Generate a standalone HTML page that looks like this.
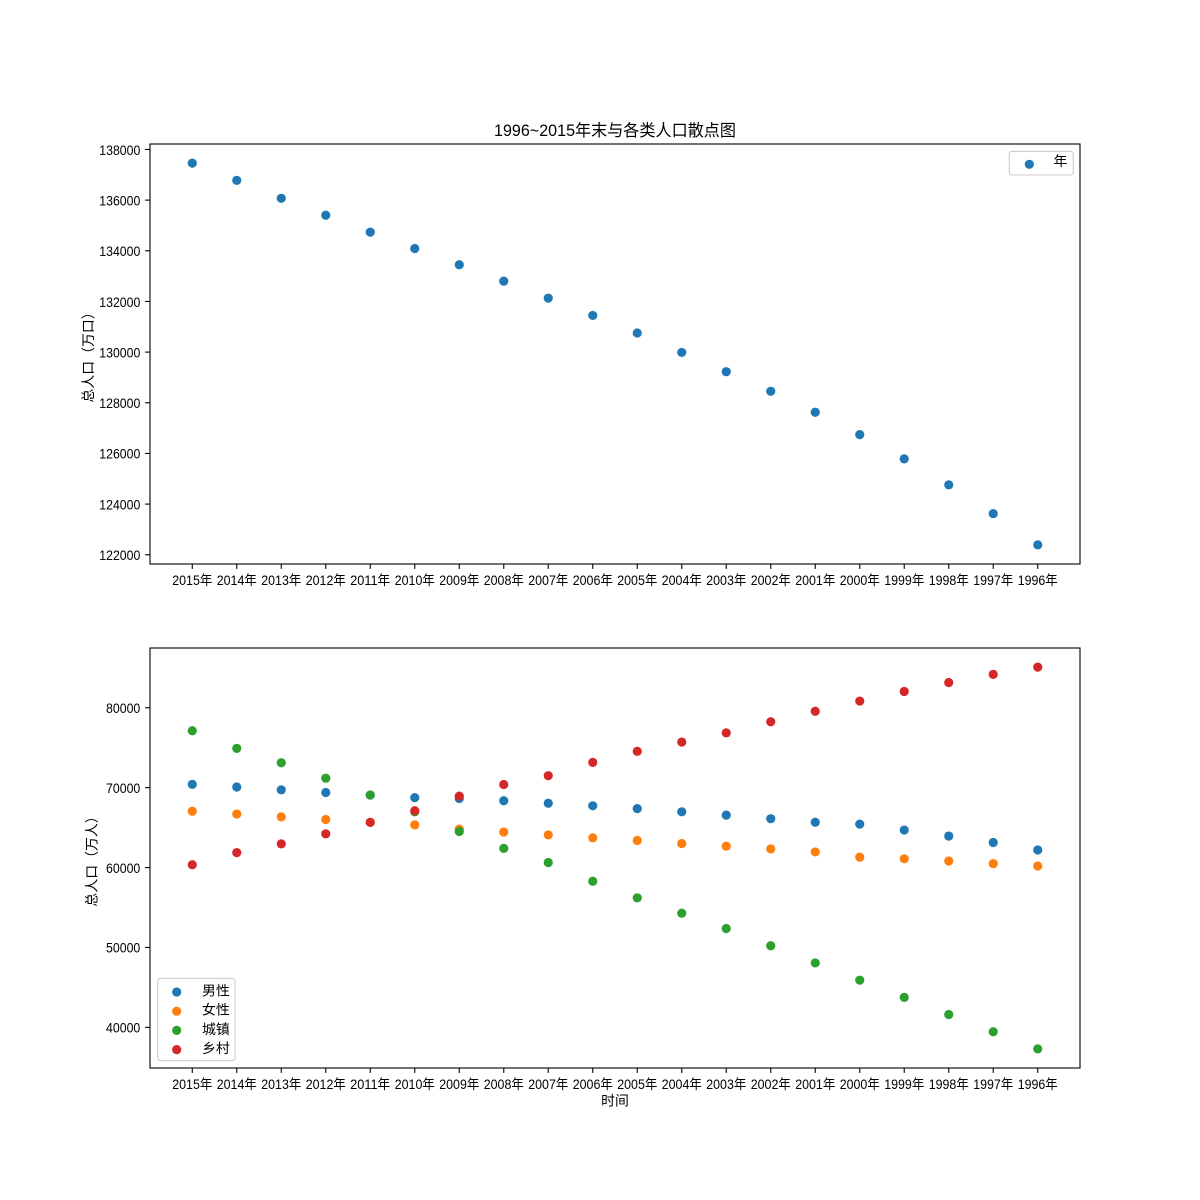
<!DOCTYPE html>
<html><head><meta charset="utf-8"><style>
html,body{margin:0;padding:0;background:#fff;}
svg{display:block;}
text{font-family:"Liberation Sans","WenQuanYi Zen Hei","Noto Sans CJK SC",sans-serif;fill:#000;}
</style></head><body>
<svg width="1200" height="1200" viewBox="0 0 1200 1200" xmlns="http://www.w3.org/2000/svg">
<rect width="1200" height="1200" fill="#fff"/>
<!-- Title -->
<text x="615" y="136" font-size="16.67" text-anchor="middle" textLength="242" lengthAdjust="spacingAndGlyphs">1996~2015年末与各类人口散点图</text>

<!-- ===== TOP AXES ===== -->
<g fill="#1f77b4">
<circle cx="192.27" cy="163.09" r="4.6"/>
<circle cx="236.77" cy="180.32" r="4.6"/>
<circle cx="281.27" cy="198.30" r="4.6"/>
<circle cx="325.77" cy="215.22" r="4.6"/>
<circle cx="370.26" cy="232.17" r="4.6"/>
<circle cx="414.76" cy="248.48" r="4.6"/>
<circle cx="459.26" cy="264.72" r="4.6"/>
<circle cx="503.76" cy="281.13" r="4.6"/>
<circle cx="548.26" cy="298.18" r="4.6"/>
<circle cx="592.75" cy="315.43" r="4.6"/>
<circle cx="637.25" cy="332.96" r="4.6"/>
<circle cx="681.75" cy="352.42" r="4.6"/>
<circle cx="726.25" cy="371.69" r="4.6"/>
<circle cx="770.75" cy="391.30" r="4.6"/>
<circle cx="815.24" cy="412.23" r="4.6"/>
<circle cx="859.74" cy="434.62" r="4.6"/>
<circle cx="904.24" cy="458.86" r="4.6"/>
<circle cx="948.74" cy="484.83" r="4.6"/>
<circle cx="993.24" cy="513.57" r="4.6"/>
<circle cx="1037.73" cy="544.91" r="4.6"/>
</g>
<rect x="150" y="144" width="930" height="420" fill="none" stroke="#000" stroke-width="1.1"/>
<!-- top y ticks -->
<g stroke="#000" stroke-width="1.1">
<line x1="145.1" x2="150" y1="149.46" y2="149.46"/>
<line x1="145.1" x2="150" y1="200.12" y2="200.12"/>
<line x1="145.1" x2="150" y1="250.79" y2="250.79"/>
<line x1="145.1" x2="150" y1="301.45" y2="301.45"/>
<line x1="145.1" x2="150" y1="352.11" y2="352.11"/>
<line x1="145.1" x2="150" y1="402.78" y2="402.78"/>
<line x1="145.1" x2="150" y1="453.44" y2="453.44"/>
<line x1="145.1" x2="150" y1="504.10" y2="504.10"/>
<line x1="145.1" x2="150" y1="554.76" y2="554.76"/>
</g>
<g font-size="13.89" text-anchor="end">
<text x="140.3" y="154.8" textLength="41" lengthAdjust="spacingAndGlyphs">138000</text>
<text x="140.3" y="205.4" textLength="41" lengthAdjust="spacingAndGlyphs">136000</text>
<text x="140.3" y="256.1" textLength="41" lengthAdjust="spacingAndGlyphs">134000</text>
<text x="140.3" y="306.8" textLength="41" lengthAdjust="spacingAndGlyphs">132000</text>
<text x="140.3" y="357.4" textLength="41" lengthAdjust="spacingAndGlyphs">130000</text>
<text x="140.3" y="408.1" textLength="41" lengthAdjust="spacingAndGlyphs">128000</text>
<text x="140.3" y="458.7" textLength="41" lengthAdjust="spacingAndGlyphs">126000</text>
<text x="140.3" y="509.4" textLength="41" lengthAdjust="spacingAndGlyphs">124000</text>
<text x="140.3" y="560.1" textLength="41" lengthAdjust="spacingAndGlyphs">122000</text>
</g>
<text transform="translate(93,354) rotate(-90)" font-size="13.89" text-anchor="middle">总人口（万口）</text>
<!-- top x ticks -->
<g stroke="#000" stroke-width="1.1">
<line x1="192.27" x2="192.27" y1="564" y2="568.9"/>
<line x1="236.77" x2="236.77" y1="564" y2="568.9"/>
<line x1="281.27" x2="281.27" y1="564" y2="568.9"/>
<line x1="325.77" x2="325.77" y1="564" y2="568.9"/>
<line x1="370.26" x2="370.26" y1="564" y2="568.9"/>
<line x1="414.76" x2="414.76" y1="564" y2="568.9"/>
<line x1="459.26" x2="459.26" y1="564" y2="568.9"/>
<line x1="503.76" x2="503.76" y1="564" y2="568.9"/>
<line x1="548.26" x2="548.26" y1="564" y2="568.9"/>
<line x1="592.75" x2="592.75" y1="564" y2="568.9"/>
<line x1="637.25" x2="637.25" y1="564" y2="568.9"/>
<line x1="681.75" x2="681.75" y1="564" y2="568.9"/>
<line x1="726.25" x2="726.25" y1="564" y2="568.9"/>
<line x1="770.75" x2="770.75" y1="564" y2="568.9"/>
<line x1="815.24" x2="815.24" y1="564" y2="568.9"/>
<line x1="859.74" x2="859.74" y1="564" y2="568.9"/>
<line x1="904.24" x2="904.24" y1="564" y2="568.9"/>
<line x1="948.74" x2="948.74" y1="564" y2="568.9"/>
<line x1="993.24" x2="993.24" y1="564" y2="568.9"/>
<line x1="1037.73" x2="1037.73" y1="564" y2="568.9"/>
</g>
<g font-size="13.89" text-anchor="middle">
<text x="192.27" y="584.8" textLength="40" lengthAdjust="spacingAndGlyphs">2015年</text>
<text x="236.77" y="584.8" textLength="40" lengthAdjust="spacingAndGlyphs">2014年</text>
<text x="281.27" y="584.8" textLength="40" lengthAdjust="spacingAndGlyphs">2013年</text>
<text x="325.77" y="584.8" textLength="40" lengthAdjust="spacingAndGlyphs">2012年</text>
<text x="370.26" y="584.8" textLength="40" lengthAdjust="spacingAndGlyphs">2011年</text>
<text x="414.76" y="584.8" textLength="40" lengthAdjust="spacingAndGlyphs">2010年</text>
<text x="459.26" y="584.8" textLength="40" lengthAdjust="spacingAndGlyphs">2009年</text>
<text x="503.76" y="584.8" textLength="40" lengthAdjust="spacingAndGlyphs">2008年</text>
<text x="548.26" y="584.8" textLength="40" lengthAdjust="spacingAndGlyphs">2007年</text>
<text x="592.75" y="584.8" textLength="40" lengthAdjust="spacingAndGlyphs">2006年</text>
<text x="637.25" y="584.8" textLength="40" lengthAdjust="spacingAndGlyphs">2005年</text>
<text x="681.75" y="584.8" textLength="40" lengthAdjust="spacingAndGlyphs">2004年</text>
<text x="726.25" y="584.8" textLength="40" lengthAdjust="spacingAndGlyphs">2003年</text>
<text x="770.75" y="584.8" textLength="40" lengthAdjust="spacingAndGlyphs">2002年</text>
<text x="815.24" y="584.8" textLength="40" lengthAdjust="spacingAndGlyphs">2001年</text>
<text x="859.74" y="584.8" textLength="40" lengthAdjust="spacingAndGlyphs">2000年</text>
<text x="904.24" y="584.8" textLength="40" lengthAdjust="spacingAndGlyphs">1999年</text>
<text x="948.74" y="584.8" textLength="40" lengthAdjust="spacingAndGlyphs">1998年</text>
<text x="993.24" y="584.8" textLength="40" lengthAdjust="spacingAndGlyphs">1997年</text>
<text x="1037.73" y="584.8" textLength="40" lengthAdjust="spacingAndGlyphs">1996年</text>
</g>
<!-- top legend -->
<rect x="1009.3" y="151.3" width="64" height="23.7" rx="3" fill="#fff" fill-opacity="0.8" stroke="#cccccc" stroke-width="1.1"/>
<circle cx="1029.3" cy="164.3" r="4.6" fill="#1f77b4"/>
<text x="1053.5" y="166" font-size="13.89">年</text>

<!-- ===== BOTTOM AXES ===== -->
<g fill="#1f77b4">
<circle cx="192.27" cy="784.33" r="4.6"/>
<circle cx="236.77" cy="787.00" r="4.6"/>
<circle cx="281.27" cy="789.81" r="4.6"/>
<circle cx="325.77" cy="792.47" r="4.6"/>
<circle cx="370.26" cy="795.08" r="4.6"/>
<circle cx="414.76" cy="797.64" r="4.6"/>
<circle cx="459.26" cy="798.45" r="4.6"/>
<circle cx="503.76" cy="800.77" r="4.6"/>
<circle cx="548.26" cy="803.23" r="4.6"/>
<circle cx="592.75" cy="805.79" r="4.6"/>
<circle cx="637.25" cy="808.61" r="4.6"/>
<circle cx="681.75" cy="811.80" r="4.6"/>
<circle cx="726.25" cy="815.16" r="4.6"/>
<circle cx="770.75" cy="818.68" r="4.6"/>
<circle cx="815.24" cy="822.22" r="4.6"/>
<circle cx="859.74" cy="824.10" r="4.6"/>
<circle cx="904.24" cy="830.05" r="4.6"/>
<circle cx="948.74" cy="836.06" r="4.6"/>
<circle cx="993.24" cy="842.53" r="4.6"/>
<circle cx="1037.73" cy="849.97" r="4.6"/>
</g>
<g fill="#ff7f0e">
<circle cx="192.27" cy="811.22" r="4.6"/>
<circle cx="236.77" cy="813.98" r="4.6"/>
<circle cx="281.27" cy="816.85" r="4.6"/>
<circle cx="325.77" cy="819.53" r="4.6"/>
<circle cx="370.26" cy="822.26" r="4.6"/>
<circle cx="414.76" cy="824.85" r="4.6"/>
<circle cx="459.26" cy="829.16" r="4.6"/>
<circle cx="503.76" cy="832.03" r="4.6"/>
<circle cx="548.26" cy="834.93" r="4.6"/>
<circle cx="592.75" cy="837.82" r="4.6"/>
<circle cx="637.25" cy="840.53" r="4.6"/>
<circle cx="681.75" cy="843.48" r="4.6"/>
<circle cx="726.25" cy="846.20" r="4.6"/>
<circle cx="770.75" cy="848.86" r="4.6"/>
<circle cx="815.24" cy="851.92" r="4.6"/>
<circle cx="859.74" cy="857.11" r="4.6"/>
<circle cx="904.24" cy="858.80" r="4.6"/>
<circle cx="948.74" cy="860.98" r="4.6"/>
<circle cx="993.24" cy="863.59" r="4.6"/>
<circle cx="1037.73" cy="866.04" r="4.6"/>
</g>
<g fill="#2ca02c">
<circle cx="192.27" cy="730.77" r="4.6"/>
<circle cx="236.77" cy="748.35" r="4.6"/>
<circle cx="281.27" cy="762.78" r="4.6"/>
<circle cx="325.77" cy="778.19" r="4.6"/>
<circle cx="370.26" cy="794.99" r="4.6"/>
<circle cx="414.76" cy="811.78" r="4.6"/>
<circle cx="459.26" cy="831.49" r="4.6"/>
<circle cx="503.76" cy="848.34" r="4.6"/>
<circle cx="548.26" cy="862.49" r="4.6"/>
<circle cx="592.75" cy="881.22" r="4.6"/>
<circle cx="637.25" cy="897.81" r="4.6"/>
<circle cx="681.75" cy="913.23" r="4.6"/>
<circle cx="726.25" cy="928.47" r="4.6"/>
<circle cx="770.75" cy="945.76" r="4.6"/>
<circle cx="815.24" cy="962.93" r="4.6"/>
<circle cx="859.74" cy="980.17" r="4.6"/>
<circle cx="904.24" cy="997.41" r="4.6"/>
<circle cx="948.74" cy="1014.52" r="4.6"/>
<circle cx="993.24" cy="1031.77" r="4.6"/>
<circle cx="1037.73" cy="1048.91" r="4.6"/>
</g>
<g fill="#d62728">
<circle cx="192.27" cy="864.78" r="4.6"/>
<circle cx="236.77" cy="852.63" r="4.6"/>
<circle cx="281.27" cy="843.88" r="4.6"/>
<circle cx="325.77" cy="833.81" r="4.6"/>
<circle cx="370.26" cy="822.35" r="4.6"/>
<circle cx="414.76" cy="810.71" r="4.6"/>
<circle cx="459.26" cy="796.12" r="4.6"/>
<circle cx="503.76" cy="784.45" r="4.6"/>
<circle cx="548.26" cy="775.68" r="4.6"/>
<circle cx="592.75" cy="762.38" r="4.6"/>
<circle cx="637.25" cy="751.32" r="4.6"/>
<circle cx="681.75" cy="742.05" r="4.6"/>
<circle cx="726.25" cy="732.89" r="4.6"/>
<circle cx="770.75" cy="721.78" r="4.6"/>
<circle cx="815.24" cy="711.22" r="4.6"/>
<circle cx="859.74" cy="701.04" r="4.6"/>
<circle cx="904.24" cy="691.44" r="4.6"/>
<circle cx="948.74" cy="682.53" r="4.6"/>
<circle cx="993.24" cy="674.35" r="4.6"/>
<circle cx="1037.73" cy="667.09" r="4.6"/>
</g>
<rect x="150" y="648" width="930" height="420" fill="none" stroke="#000" stroke-width="1.1"/>
<g stroke="#000" stroke-width="1.1">
<line x1="145.1" x2="150" y1="707.73" y2="707.73"/>
<line x1="145.1" x2="150" y1="787.64" y2="787.64"/>
<line x1="145.1" x2="150" y1="867.55" y2="867.55"/>
<line x1="145.1" x2="150" y1="947.46" y2="947.46"/>
<line x1="145.1" x2="150" y1="1027.36" y2="1027.36"/>
</g>
<g font-size="13.89" text-anchor="end">
<text x="140.3" y="713.0" textLength="34.3" lengthAdjust="spacingAndGlyphs">80000</text>
<text x="140.3" y="792.9" textLength="34.3" lengthAdjust="spacingAndGlyphs">70000</text>
<text x="140.3" y="872.8" textLength="34.3" lengthAdjust="spacingAndGlyphs">60000</text>
<text x="140.3" y="952.7" textLength="34.3" lengthAdjust="spacingAndGlyphs">50000</text>
<text x="140.3" y="1032.6" textLength="34.3" lengthAdjust="spacingAndGlyphs">40000</text>
</g>
<text transform="translate(96.5,858) rotate(-90)" font-size="13.89" text-anchor="middle">总人口（万人）</text>
<g stroke="#000" stroke-width="1.1">
<line x1="192.27" x2="192.27" y1="1068" y2="1072.9"/>
<line x1="236.77" x2="236.77" y1="1068" y2="1072.9"/>
<line x1="281.27" x2="281.27" y1="1068" y2="1072.9"/>
<line x1="325.77" x2="325.77" y1="1068" y2="1072.9"/>
<line x1="370.26" x2="370.26" y1="1068" y2="1072.9"/>
<line x1="414.76" x2="414.76" y1="1068" y2="1072.9"/>
<line x1="459.26" x2="459.26" y1="1068" y2="1072.9"/>
<line x1="503.76" x2="503.76" y1="1068" y2="1072.9"/>
<line x1="548.26" x2="548.26" y1="1068" y2="1072.9"/>
<line x1="592.75" x2="592.75" y1="1068" y2="1072.9"/>
<line x1="637.25" x2="637.25" y1="1068" y2="1072.9"/>
<line x1="681.75" x2="681.75" y1="1068" y2="1072.9"/>
<line x1="726.25" x2="726.25" y1="1068" y2="1072.9"/>
<line x1="770.75" x2="770.75" y1="1068" y2="1072.9"/>
<line x1="815.24" x2="815.24" y1="1068" y2="1072.9"/>
<line x1="859.74" x2="859.74" y1="1068" y2="1072.9"/>
<line x1="904.24" x2="904.24" y1="1068" y2="1072.9"/>
<line x1="948.74" x2="948.74" y1="1068" y2="1072.9"/>
<line x1="993.24" x2="993.24" y1="1068" y2="1072.9"/>
<line x1="1037.73" x2="1037.73" y1="1068" y2="1072.9"/>
</g>
<g font-size="13.89" text-anchor="middle">
<text x="192.27" y="1088.8" textLength="40" lengthAdjust="spacingAndGlyphs">2015年</text>
<text x="236.77" y="1088.8" textLength="40" lengthAdjust="spacingAndGlyphs">2014年</text>
<text x="281.27" y="1088.8" textLength="40" lengthAdjust="spacingAndGlyphs">2013年</text>
<text x="325.77" y="1088.8" textLength="40" lengthAdjust="spacingAndGlyphs">2012年</text>
<text x="370.26" y="1088.8" textLength="40" lengthAdjust="spacingAndGlyphs">2011年</text>
<text x="414.76" y="1088.8" textLength="40" lengthAdjust="spacingAndGlyphs">2010年</text>
<text x="459.26" y="1088.8" textLength="40" lengthAdjust="spacingAndGlyphs">2009年</text>
<text x="503.76" y="1088.8" textLength="40" lengthAdjust="spacingAndGlyphs">2008年</text>
<text x="548.26" y="1088.8" textLength="40" lengthAdjust="spacingAndGlyphs">2007年</text>
<text x="592.75" y="1088.8" textLength="40" lengthAdjust="spacingAndGlyphs">2006年</text>
<text x="637.25" y="1088.8" textLength="40" lengthAdjust="spacingAndGlyphs">2005年</text>
<text x="681.75" y="1088.8" textLength="40" lengthAdjust="spacingAndGlyphs">2004年</text>
<text x="726.25" y="1088.8" textLength="40" lengthAdjust="spacingAndGlyphs">2003年</text>
<text x="770.75" y="1088.8" textLength="40" lengthAdjust="spacingAndGlyphs">2002年</text>
<text x="815.24" y="1088.8" textLength="40" lengthAdjust="spacingAndGlyphs">2001年</text>
<text x="859.74" y="1088.8" textLength="40" lengthAdjust="spacingAndGlyphs">2000年</text>
<text x="904.24" y="1088.8" textLength="40" lengthAdjust="spacingAndGlyphs">1999年</text>
<text x="948.74" y="1088.8" textLength="40" lengthAdjust="spacingAndGlyphs">1998年</text>
<text x="993.24" y="1088.8" textLength="40" lengthAdjust="spacingAndGlyphs">1997年</text>
<text x="1037.73" y="1088.8" textLength="40" lengthAdjust="spacingAndGlyphs">1996年</text>
</g>
<text x="615" y="1105.5" font-size="13.89" text-anchor="middle">时间</text>
<!-- bottom legend -->
<rect x="157.7" y="978.3" width="77.3" height="82.4" rx="3" fill="#fff" fill-opacity="0.8" stroke="#cccccc" stroke-width="1.1"/>
<circle cx="176.7" cy="992" r="4.6" fill="#1f77b4"/>
<circle cx="176.7" cy="1011.2" r="4.6" fill="#ff7f0e"/>
<circle cx="176.7" cy="1030.4" r="4.6" fill="#2ca02c"/>
<circle cx="176.7" cy="1049.6" r="4.6" fill="#d62728"/>
<g font-size="13.89">
<text x="202" y="995.5">男性</text>
<text x="202" y="1014.7">女性</text>
<text x="202" y="1033.9">城镇</text>
<text x="202" y="1053.1">乡村</text>
</g>
</svg>
</body></html>
